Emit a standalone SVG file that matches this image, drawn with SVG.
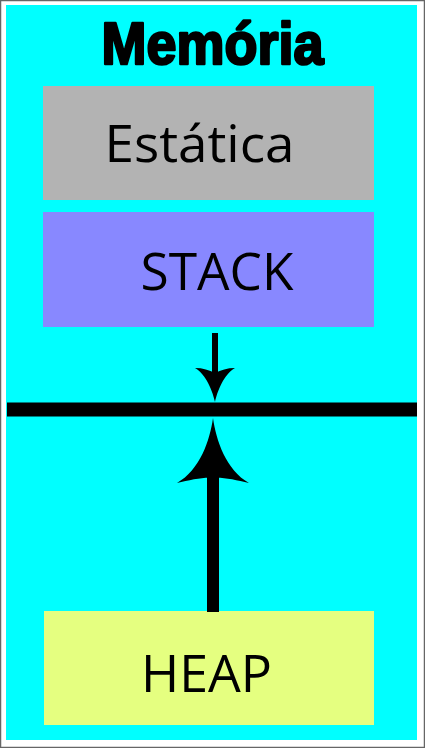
<svg xmlns="http://www.w3.org/2000/svg" width="425" height="748" viewBox="0 0 425 748">
  <style>
    .lbl { font-family: "Open Sans", "Noto Sans", sans-serif; font-size: 52px; fill: #000; text-anchor: middle; }
    .title { font-family: "Liberation Sans", "Arial", sans-serif; font-weight: bold; font-size: 60px; fill: #000; stroke: #000; stroke-width: 2.6; stroke-linejoin: round; text-anchor: middle; }
    .box { stroke: none; }
  </style>
  <rect x="0.5" y="0.5" width="424" height="747" fill="#ffffff" stroke="#666666" stroke-width="1.5"/>
  <rect x="6" y="5" width="411" height="735" fill="#00ffff"/>
  <g id="title">
    <text class="title" x="212.5" y="64" textLength="222" lengthAdjust="spacingAndGlyphs">Memória</text>
  </g>
  <g id="estatica">
    <rect class="box" x="43" y="86" width="331" height="114" fill="#b3b3b3"/>
    <text class="lbl" x="199.5" y="161.5" textLength="190" lengthAdjust="spacingAndGlyphs">Estática</text>
  </g>
  <g id="stack">
    <rect class="box" x="43" y="212" width="331" height="115" fill="#8888ff"/>
    <text class="lbl" x="217" y="289.5" textLength="153" lengthAdjust="spacingAndGlyphs">STACK</text>
  </g>
  <g id="heap">
    <rect class="box" x="44" y="611" width="330" height="114" fill="#e5ff80"/>
    <text class="lbl" x="206.5" y="691.5" font-size="54" textLength="131" lengthAdjust="spacingAndGlyphs">HEAP</text>
  </g>
  <g id="connectors">
    <line x1="7" y1="409.5" x2="417" y2="409.5" stroke="#000" stroke-width="14"/>
    <line x1="215" y1="333" x2="215" y2="374" stroke="#000" stroke-width="6"/>
    <path d="M215,402 C213,392 206,374 195,368 C203,368 209,370 215,373 C221,370 227,368 235,368 C224,374 217,392 215,402 Z" fill="#000"/>
    <line x1="213" y1="612" x2="213" y2="476" stroke="#000" stroke-width="12"/>
    <path d="M213,418 C210,440 200,470 177,483 C190,480 204,477 213,478 C222,477 236,480 249,483 C226,470 216,440 213,418 Z" fill="#000"/>
  </g>
</svg>
